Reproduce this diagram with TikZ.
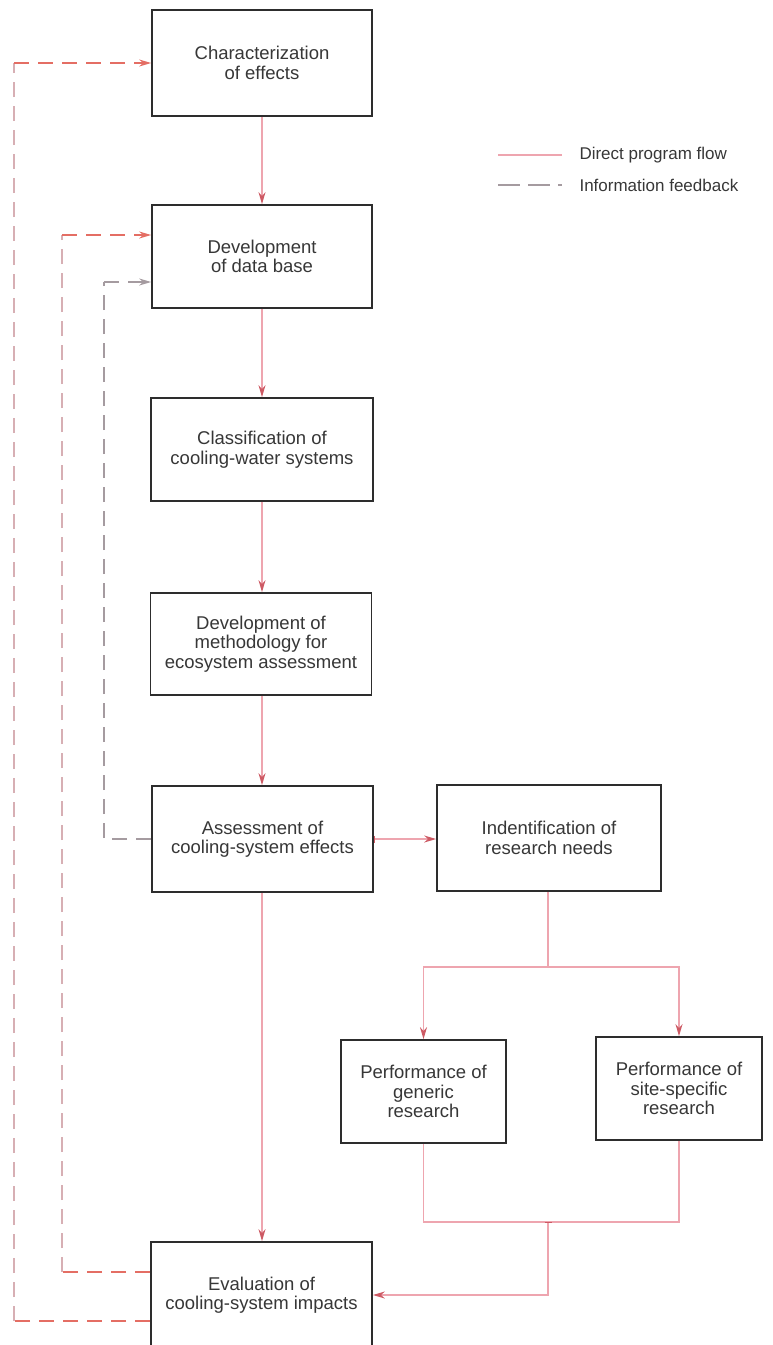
\documentclass[tikz,border=0pt]{standalone}
\usepackage{fontspec}
\setmainfont{Liberation Sans}
\usetikzlibrary{arrows.meta}
\definecolor{flowpink}{RGB}{238,165,175}
\definecolor{arrowred}{RGB}{205,90,100}
\definecolor{fbred}{RGB}{228,110,100}
\definecolor{fbfade}{RGB}{215,175,180}
\definecolor{fbgray}{RGB}{165,155,160}
\definecolor{boxgray}{RGB}{45,45,45}
\definecolor{txtgray}{RGB}{55,55,55}
\begin{document}
\begin{tikzpicture}[x=1pt,y=-1pt,
  box/.style={draw=boxgray, line width=1.7pt, fill=white, inner sep=0pt, align=center,
    text=txtgray, font=\fontsize{18.5}{19.5}\selectfont},
  flow/.style={draw=flowpink, line width=1.3pt},
  flowarrow/.style={flow, -{Stealth[length=12pt,width=7pt,color=arrowred]}},
  fb/.style={line width=1.3pt, dash pattern=on 15pt off 9pt},
  fbarrow/.style={fb, -{Stealth[length=12pt,width=7pt,color=fbred]}},
  legtext/.style={anchor=west, text=txtgray, font=\fontsize{17}{19}\selectfont}
]
\useasboundingbox (0,0) rectangle (773,1345);

% boxes
\node[box, minimum width=220pt, minimum height=106pt] (b1) at (262,63) {Characterization\\of effects};
\node[box, minimum width=220pt, minimum height=103pt] (b2) at (262,256.5) {Development\\of data base};
\node[box, minimum width=222pt, minimum height=103pt] (b3) at (262,449.5) {Classification of\\cooling-water systems};
\node[box, minimum width=221pt, minimum height=102pt] (b4) at (261,644) {Development of\\methodology for\\ecosystem assessment};
\node[box, minimum width=221pt, minimum height=106pt] (b5) at (262.5,839) {Assessment of\\cooling-system effects};
\node[box, minimum width=224pt, minimum height=106pt] (b6) at (549,838) {Indentification of\\research needs};
\node[box, minimum width=165pt, minimum height=103pt] (b7) at (423.5,1091.5) {Performance of\\generic\\research};
\node[box, minimum width=166pt, minimum height=103pt] (b8) at (679,1088.5) {Performance of\\site-specific\\research};
\node[box, minimum width=221pt, minimum height=106pt] (b9) at (261.5,1295) {Evaluation of\\cooling-system impacts};

% direct program flow
\draw[flowarrow] (b1.south) -- (b2.north);
\draw[flowarrow] (b2.south) -- (b3.north);
\draw[flowarrow] (b3.south) -- (b4.north -| b3.south);
\draw[flowarrow] (b4.south -| b3.south) -- (b5.north -| b3.south);
\draw[flowarrow] (b5.south -| b3.south) -- (b9.north -| b3.south);
\draw[flow, {Bar[width=7pt,color=arrowred]}-{Stealth[length=12pt,width=7pt,color=arrowred]}] (b5.east) -- (b6.west |- b5.east);

\coordinate (split) at (548,967);
\coordinate (join) at (548,1222);
\draw[flow] (b6.south -| split) -- (split);
\draw[flowarrow] (split) -| (b7.north);
\draw[flowarrow] (split) -| (b8.north);
\draw[flow] (b7.south) |- (join);
\draw[flow] (b8.south) |- (join);
\draw[flow, {Bar[width=7pt,color=arrowred]}-{Stealth[length=12pt,width=7pt,color=arrowred]}] (join) |- (b9.east |- 0,1295);

% information feedback
\coordinate (o1) at (14,1321);
\coordinate (o2) at (14,63);
\draw[fb, draw=fbred] (b9.west |- o1) -- (o1);
\draw[fb, draw=fbfade] (o1) -- (o2);
\draw[fbarrow, draw=fbred] (o2) -- (b1.west |- o2);

\coordinate (m1) at (62,1272);
\coordinate (m2) at (62,235);
\draw[fb, draw=fbred] (b9.west |- m1) -- (m1);
\draw[fb, draw=fbfade] (m1) -- (m2);
\draw[fbarrow, draw=fbred] (m2) -- (b2.west |- m2);

\coordinate (i1) at (104,839);
\coordinate (i2) at (104,282);
\draw[fb, draw=fbgray] (b5.west) -- (i1) -- (i2);
\draw[fb, draw=fbgray, -{Stealth[length=12pt,width=7pt,color=fbgray]}] (i2) -- (b2.west |- i2);

% legend
\coordinate (l1a) at (498,155);
\coordinate (l1b) at (562,155);
\coordinate (l2a) at (498,185);
\coordinate (l2b) at (562,185);
\draw[flow] (l1a) -- (l1b);
\draw[fb, draw=fbgray, dash pattern=on 22pt off 8pt] (l2a) -- (l2b);
\node[legtext] (lt1) at (576,155) {Direct program flow};
\node[legtext] (lt2) at (576,185) {Information feedback};
\end{tikzpicture}
\end{document}
